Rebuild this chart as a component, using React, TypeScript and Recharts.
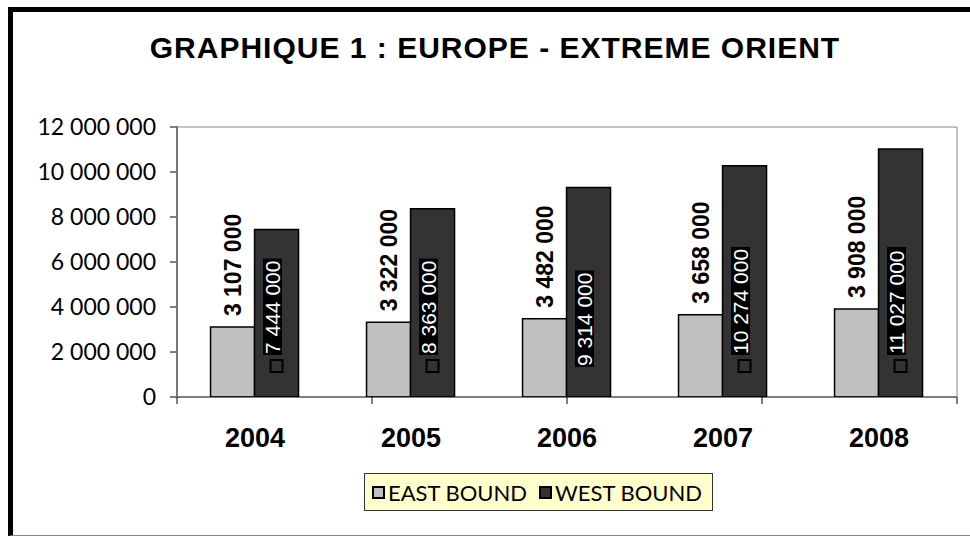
import { BarChart, Bar, XAxis, YAxis, LabelList, Legend } from 'recharts';

const years = ['2004', '2005', '2006', '2007', '2008'];
const eastBound = [3107000, 3322000, 3482000, 3658000, 3908000];
const westBound = [7444000, 8363000, 9314000, 10274000, 11027000];
const yTicks = [0, 2000000, 4000000, 6000000, 8000000, 10000000, 12000000];
const boundTicks = [0, 1, 2, 3, 4, 5];
// years where the west label has no legend key under it
const noKeyYears = ['2006'];

const series = [
  { key: 'east', name: 'EAST BOUND', color: '#c0c0c0' },
  { key: 'west', name: 'WEST BOUND', color: '#333333' },
];

const data = years.map((year, i) => ({ year, east: eastBound[i], west: westBound[i] }));

const ARIAL = '"Liberation Sans", Arial, sans-serif';
const GOTHIC = '"Century Gothic", Lato, sans-serif';

const fmt = (v: number) => String(v).replace(/\B(?=(\d{3})+(?!\d))/g, ' ');

// rough Arial widths, for the black box behind the west labels
const textWidth = (s: string, fs: number) =>
  s.split('').reduce((w, c) => w + (c === ' ' ? 0.278 : 0.556), 0) * fs;

const EastLabel = (props: any) => {
  const { x, y, width, value } = props;
  const cx = x + width / 2;
  const ty = y - 11;
  return (
    <text
      x={cx}
      y={ty}
      transform={`rotate(-90 ${cx} ${ty})`}
      textAnchor="start"
      dominantBaseline="central"
      fontFamily={ARIAL}
      fontWeight="bold"
      fontSize={23}
      fill="#000"
    >
      {fmt(value)}
    </text>
  );
};

const WestLabel = (props: any) => {
  const { x, y, width, height, value, index } = props;
  const cx = x + width / 2;
  const base = y + height;
  const hasKey = !noKeyYears.includes(years[index]);
  const start = hasKey ? base - 43 : base - 31;
  const label = fmt(value);
  const fs = 21;
  const len = textWidth(label, fs);
  const tx = cx - 4;
  return (
    <g>
      <rect x={tx - 9.5} y={start - len - 2} width={19} height={len + 3} fill="#000" />
      <text
        x={tx}
        y={start}
        transform={`rotate(-90 ${tx} ${start})`}
        textAnchor="start"
        dominantBaseline="central"
        fontFamily={ARIAL}
        fontSize={fs}
        fill="#fff"
      >
        {label}
      </text>
      {hasKey && (
        <rect x={cx - 6} y={base - 37} width={12} height={12} fill="#333" stroke="#000" strokeWidth={2} />
      )}
    </g>
  );
};

// tick mark only, hanging below the x axis at each category boundary
const BoundTick = (props: any) => {
  const { x, y } = props;
  return <line x1={x} x2={x} y1={y} y2={y + 7} stroke="#000" strokeWidth={1} />;
};

const LegendBox = () => (
  <div
    style={{
      display: 'inline-flex',
      alignItems: 'center',
      background: '#ffffcc',
      border: '1px solid #333',
      height: 38,
      boxSizing: 'border-box',
      padding: '0 10px 0 7px',
      fontFamily: GOTHIC,
      fontSize: 22,
      color: '#000',
      whiteSpace: 'nowrap',
    }}
  >
    {series.map((s, i) => (
      <span key={s.key} style={{ display: 'inline-flex', alignItems: 'center', marginLeft: i ? 12 : 0 }}>
        <span
          style={{
            width: 9,
            height: 9,
            background: s.color,
            border: '2px solid #000',
            marginRight: 3,
          }}
        />
        {s.name}
      </span>
    ))}
  </div>
);

export default function App() {
  return (
    <div style={{ position: 'relative', width: 970, height: 537, overflow: 'hidden', background: '#fff' }}>
      <style>{'body{margin:0}'}</style>
      <div
        style={{
          position: 'absolute',
          left: 8,
          top: 7,
          width: 962,
          height: 529,
          boxSizing: 'border-box',
          borderLeft: '5px solid #000',
          borderTop: '5px solid #000',
          borderBottom: '1px solid #888',
        }}
      />
      <div
        style={{
          position: 'absolute',
          left: 0,
          top: 33,
          width: 990,
          textAlign: 'center',
          fontFamily: ARIAL,
          fontWeight: 'bold',
          fontSize: 30,
          letterSpacing: 1,
          lineHeight: '29px',
          color: '#000',
        }}
      >
        GRAPHIQUE 1 : EUROPE - EXTREME ORIENT
      </div>
      <div style={{ position: 'absolute', left: 0, top: 0 }}>
        <BarChart
          width={970}
          height={537}
          data={data}
          margin={{ top: 126, right: 12, left: 7, bottom: 80 }}
          barCategoryGap="21.5%"
          barGap={0}
        >
          {/* x axis line with ticks between the categories */}
          <XAxis
            type="number"
            domain={[0, 5]}
            ticks={boundTicks}
            interval={0}
            height={1}
            tick={BoundTick}
            tickSize={0}
            tickMargin={0}
            tickLine={false}
            stroke="#000"
            axisLine
            allowDataOverflow
          />
          <XAxis
            xAxisId="cat"
            dataKey="year"
            height={59}
            tickLine={false}
            axisLine={false}
            tickSize={0}
            tickMargin={30}
            interval={0}
            tick={{ fontSize: 27, fontFamily: ARIAL, fontWeight: 'bold', fill: '#000' }}
          />
          <XAxis
            xAxisId="top"
            orientation="top"
            dataKey="year"
            height={1}
            tick={false}
            tickLine={false}
            stroke="#888"
            axisLine
          />
          <YAxis
            domain={[0, 12000000]}
            ticks={yTicks}
            interval={0}
            tickFormatter={fmt}
            width={170}
            tickSize={7}
            tickMargin={14}
            stroke="#000"
            axisLine={false}
            tickLine
            tick={{ fontSize: 23, fontFamily: GOTHIC, fill: '#000' }}
            allowDataOverflow
          />
          <YAxis
            yAxisId="frame"
            orientation="right"
            domain={[0, 1]}
            width={1}
            tick={false}
            tickLine={false}
            stroke="#888"
            axisLine
          />
          <Legend
            verticalAlign="middle"
            align="center"
            content={LegendBox}
            wrapperStyle={{ left: 364, top: 473, width: 'auto', height: 'auto' }}
          />
          <Bar
            xAxisId="cat"
            dataKey="east"
            name="EAST BOUND"
            fill="#c0c0c0"
            stroke="#000"
            strokeWidth={1.5}
            isAnimationActive={false}
          >
            <LabelList dataKey="east" content={EastLabel} />
          </Bar>
          <Bar
            xAxisId="cat"
            dataKey="west"
            name="WEST BOUND"
            fill="#333333"
            stroke="#000"
            strokeWidth={1.5}
            isAnimationActive={false}
          >
            <LabelList dataKey="west" content={WestLabel} />
          </Bar>
        </BarChart>
      </div>
      {/* left edge of the plot area */}
      <div
        style={{
          position: 'absolute',
          left: 176,
          top: 126,
          width: 0,
          height: 271,
          borderLeft: '2px solid #777',
          pointerEvents: 'none',
        }}
      />
    </div>
  );
}
